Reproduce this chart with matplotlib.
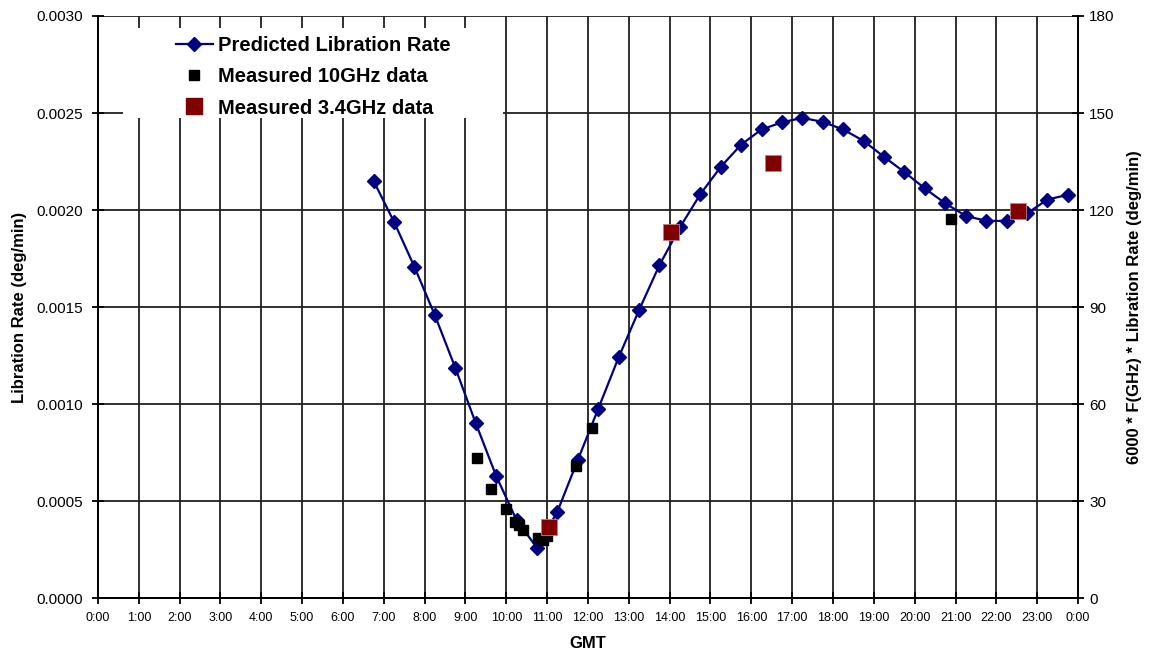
import matplotlib
matplotlib.use("Agg")
import matplotlib.pyplot as plt
from matplotlib.lines import Line2D
from matplotlib.patches import Rectangle

plt.rcParams["font.family"] = ["Liberation Sans", "DejaVu Sans"]

# predicted libration rate, every half hour from 6:45
pred_hours = [6.75 + 0.5 * k for k in range(35)]
pred_rate = [
    0.002150, 0.001939, 0.001707, 0.001458, 0.001187, 0.000902, 0.000630,
    0.000402, 0.000259, 0.000445, 0.000711, 0.000975, 0.001240, 0.001484,
    0.001716, 0.001910, 0.002081, 0.002222, 0.002337, 0.002415, 0.002452,
    0.002475, 0.002454, 0.002415, 0.002356, 0.002274, 0.002195, 0.002111,
    0.002034, 0.001970, 0.001944, 0.001944, 0.001982, 0.002054, 0.002078,
]

# measured 10 GHz data
m10_hours = [9.29, 9.63, 10.00, 10.22, 10.32, 10.42, 10.78, 10.90, 11.00, 11.70, 12.10, 20.90]
m10_rate = [0.000723, 0.000560, 0.000459, 0.000393, 0.000375, 0.000352, 0.000307,
            0.000299, 0.000320, 0.000682, 0.000876, 0.001956]

# measured 3.4 GHz data
m34_hours = [11.05, 14.03, 16.52, 22.53]
m34_rate = [0.000364, 0.001887, 0.002243, 0.001994]

hour_labels = [f"{h % 24}:00" for h in range(25)]

NAVY = "#000080"
DARKRED = "#800000"

fig = plt.figure(figsize=(11.51, 6.53), dpi=100)
ax = fig.add_axes([0.0851, 0.0842, 0.8515, 0.8913])

ax.plot(pred_hours, pred_rate, color=NAVY, lw=1.6, marker="D", ms=7,
        mec=NAVY, mfc=NAVY, zorder=3)
ax.plot(m10_hours, m10_rate, ls="none", marker="s", ms=7, color="black", zorder=4)
ax.plot(m34_hours, m34_rate, ls="none", marker="s", ms=12, color=DARKRED,
        mec="#c08080", mew=0.6, zorder=5)

ax.set_xlim(0, 24)
ax.set_ylim(0, 0.0030)
ax.set_xticks(range(25))
ax.set_xticklabels(hour_labels)
ax.set_yticks([i * 0.0005 for i in range(7)])
ax.set_yticklabels([f"{i * 0.0005:.4f}" for i in range(7)])
ax.grid(True, color="#202020", lw=1.3)
ax.set_axisbelow(True)
for s in ax.spines.values():
    s.set_color("black")
    s.set_linewidth(1.3)
ax.spines["top"].set_visible(False)
ax.tick_params(direction="inout", length=8, width=1.3)
ax.tick_params(axis="x", labelsize=9, pad=6)
ax.tick_params(axis="y", labelsize=11, pad=7)

ax.set_xlabel("GMT", fontsize=12, fontweight="bold")
ax.xaxis.set_label_coords(0.5, -0.066)
ax.set_ylabel("Libration Rate (deg/min)", fontsize=12, fontweight="bold")
ax.yaxis.set_label_coords(-0.0724, 0.5)

ax2 = ax.twinx()
ax2.set_ylim(0, 180)
ax2.set_yticks(range(0, 181, 30))
ax2.tick_params(direction="inout", length=8, width=1.3, labelsize=11, pad=4)
for s in ax2.spines.values():
    s.set_linewidth(1.3)
ax2.spines["top"].set_visible(False)
ax2.set_ylabel("6000 * F(GHz) * Libration Rate (deg/min)", fontsize=12,
               fontweight="bold")
ax2.yaxis.set_label_coords(1.050, 0.5)

# white legend area hiding the grid
ax2.add_patch(Rectangle((0.0255, 0.825), 0.3875, 0.154, transform=ax2.transAxes,
                        facecolor="white", edgecolor="none", zorder=8))

handles = [
    Line2D([], [], color=NAVY, lw=1.6, marker="D", ms=7),
    Line2D([], [], ls="none", marker="s", ms=7, color="black"),
    Line2D([], [], ls="none", marker="s", ms=11.5, color=DARKRED),
]
leg = ax2.legend(handles, ["Predicted Libration Rate", "Measured 10GHz data",
                           "Measured 3.4GHz data"],
                 loc="upper left", bbox_to_anchor=(0.0796, 0.965), frameon=False,
                 prop={"weight": "bold", "size": 14.5}, handlelength=1.84,
                 borderpad=0, borderaxespad=0, labelspacing=0.6, handletextpad=0.25)
leg.set_zorder(10)

fig.savefig("out.png", dpi=100)
